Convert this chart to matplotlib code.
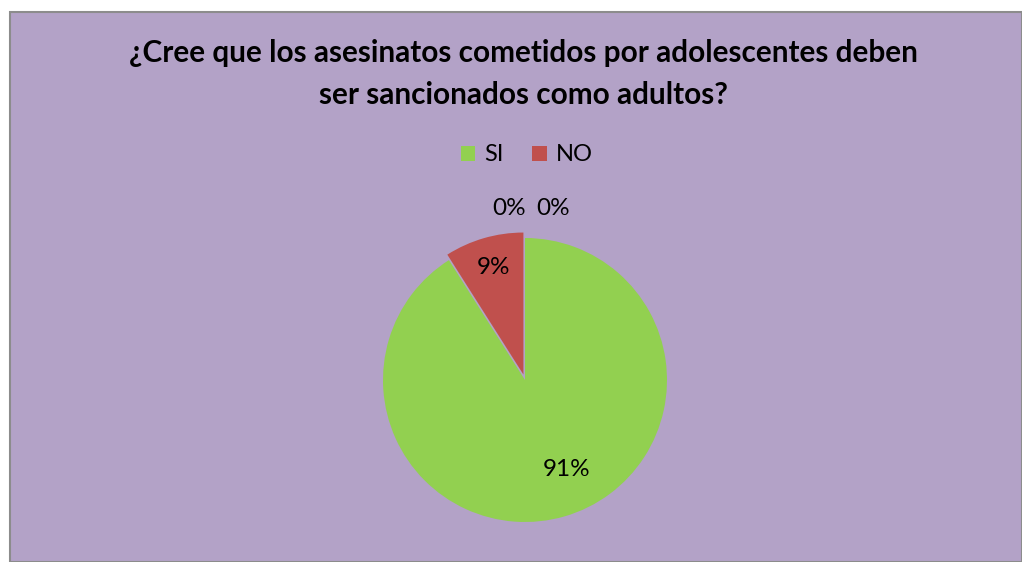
import matplotlib
matplotlib.use("Agg")
import matplotlib.pyplot as plt
from matplotlib.patches import Rectangle

title = "¿Cree que los asesinatos cometidos por adolescentes deben\nser sancionados como adultos?"
categories = ["SI", "NO", "", " "]
values = [91, 9, 0, 0]
colors = ["#92D050", "#C0504D", "#4F81BD", "#8064A2"]
explode = [0, 0.04, 0, 0]

W, H = 1022, 562
fig = plt.figure(figsize=(W / 100, H / 100), dpi=100)
fig.patch.set_facecolor("white")

# chart area background with border
bg = Rectangle((10 / W, 0), 1 - 10 / W, 1 - 12 / H, transform=fig.transFigure,
               facecolor="#B3A2C7", edgecolor="#8C8C8C", linewidth=1.5, zorder=0)
fig.add_artist(bg)

font = "Lato"

fig.text(523 / W, 1 - 74 / H, title, ha="center", va="center", fontsize=21.4,
         fontweight="bold", family=font, linespacing=1.65)

# pie axes: center at (525, 380) px, radius 142 px
cx, cy, R = 525, 380, 142
half = 200
ax = fig.add_axes([(cx - half) / W, 1 - (cy + half) / H, 2 * half / W, 2 * half / H])
ax.set_facecolor("none")

wedges, texts, autotexts = ax.pie(
    values, colors=colors, explode=explode, startangle=90, counterclock=False,
    autopct=lambda p: f"{p:.0f}%", pctdistance=0.72, radius=1,
    wedgeprops=dict(linewidth=0), textprops=dict(fontsize=17.5, family=font, color="black"),
)
lim = half / R
ax.set_xlim(-lim, lim)
ax.set_ylim(-lim, lim)
ax.set_aspect("equal")
ax.axis("off")

# zero-valued slices: labels placed outside, above the pie top
zero_offsets = [-0.11, 0.2]
k = 0
for v, t in zip(values, autotexts):
    if v == 0:
        t.set_position((zero_offsets[k], 1.21))
        k += 1
autotexts[1].set_position((-0.22, 0.79))
autotexts[0].set_position((0.29, -0.63))

leg = fig.legend(wedges[:2], categories[:2], loc="center", bbox_to_anchor=(527 / W, 1 - 155 / H),
                 ncol=2, frameon=False, prop=dict(family=font, size=17),
                 handlelength=0.6, handleheight=0.6, handletextpad=0.4, columnspacing=1.2)

fig.savefig("out.png", dpi=100, facecolor=fig.get_facecolor())
